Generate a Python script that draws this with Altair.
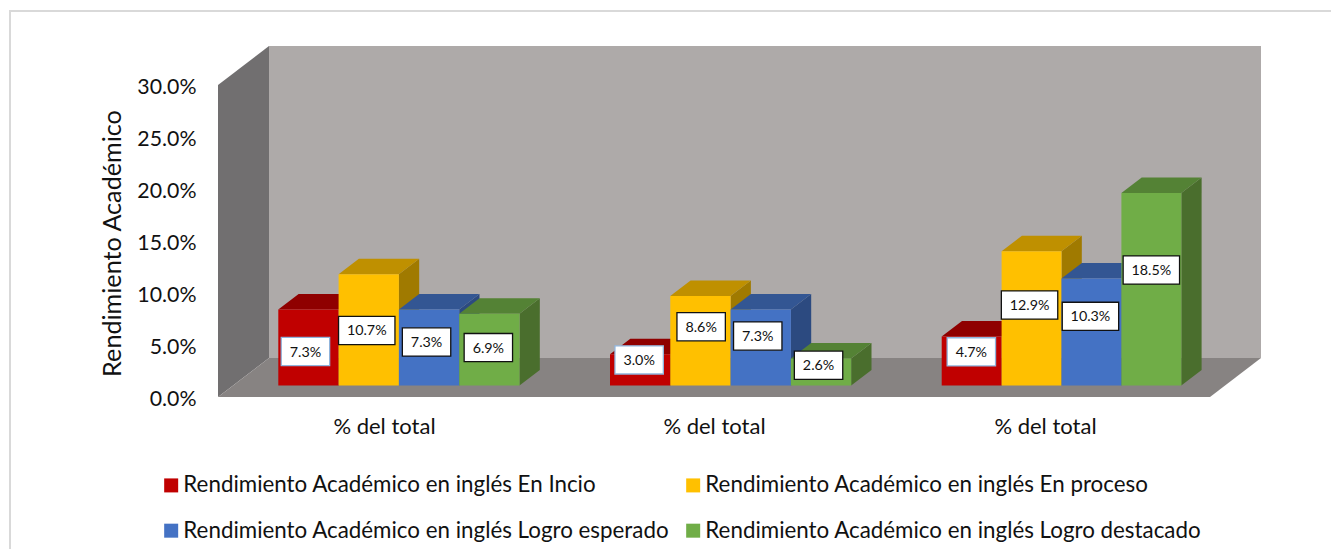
import altair as alt
import pandas as pd

# ---- chart values ----
series = [
    "Rendimiento Académico en inglés En Incio",
    "Rendimiento Académico en inglés En proceso",
    "Rendimiento Académico en inglés Logro esperado",
    "Rendimiento Académico en inglés Logro destacado",
]
inicio = [7.3, 3.0, 4.7]
proceso = [10.7, 8.6, 12.9]
esperado = [7.3, 7.3, 10.3]
destacado = [6.9, 2.6, 18.5]
group_label = "% del total"
y_ticks = [0, 5, 10, 15, 20, 25, 30]

# ---- styling / layout ----
front = ["#C00000", "#FFC000", "#4472C4", "#70AD47"]
top_c = ["#8F0000", "#BF9000", "#335693", "#548235"]
side_c = ["#7A0000", "#A07A00", "#2C4A80", "#4A6E2D"]
label_border = ["#8FB4DC", "#111111", "#111111", "#111111"]
FONT = "Lato"
W, H = 1043, 351
PX_PER_PCT = 10.4
YMAX = H / PX_PER_PCT
WALL_DX, WALL_DY = 51, 39 / PX_PER_PCT
BAR_DX, BAR_DY = 20.3, 15.5 / PX_PER_PCT
BASE = 11.5 / PX_PER_PCT
GROUP_X = [60.3, 392.0, 723.7]
BAR_W = 60.3
GROUP_BAR_W = [60.3, 60.3, 59.9]
GROUP_CENTERS = [166, 496, 827]
# hand-placed label nudges (px) relative to bar centre
nudge_x = [[-3, -1, -0.5], [-2, 0.7, -2.6], [-2.5, -3, -2], [-1, -2.5, -1.4]]
nudge_y = [[4, -10, -9.2], [0.6, -14, -13.4], [-5.6, -11.5, -15.6], [-2, -6.8, -19.3]]

all_values = [inicio, proceso, esperado, destacado]
xs = alt.Scale(domain=[0, W], range=[0, W], nice=False, zero=False)
ys = alt.Scale(domain=[0, YMAX], range=[H, 0], nice=False, zero=False)
cs = alt.Scale(domain=series, range=front)

x_axis = alt.Axis(
    title=None, values=GROUP_CENTERS, labelExpr=f"'{group_label}'", ticks=False, domain=False,
    grid=False, labelFont=FONT, labelFontSize=22, labelColor="#111111", labelPadding=19,
    labelOverlap=False, labelFlush=False)
y_axis = alt.Axis(
    title="Rendimiento Académico", values=y_ticks,
    labelExpr="format(datum.value,'.1f')+'%'", ticks=False, domain=False, grid=False,
    labelFont=FONT, labelFontSize=21.3, labelColor="#111111", labelPadding=22, labelOffset=2.5,
    titleFont=FONT, titleFontSize=25.2, titleFontWeight="normal", titleColor="#111111",
    titleX=-93, titleY=197, labelOverlap=False)


def X(f="x", **k):
    return alt.X(f"{f}:Q", scale=xs, axis=x_axis, **k)


def Y(f="y", **k):
    return alt.Y(f"{f}:Q", scale=ys, axis=y_axis, **k)


layers = []

# frame: only its top and left edges fall inside the picture
frame = alt.Chart(pd.DataFrame({"a": [0]})).mark_rect(
    fill="white", fillOpacity=0, stroke="#D9D9D9", strokeWidth=2
).encode(
    x=alt.value(-208), x2=alt.value(1400), y=alt.value(-35), y2=alt.value(800)
)
layers.append(frame)

# back wall
wall = alt.Chart(pd.DataFrame({"x": [WALL_DX], "x2": [W], "y": [WALL_DY], "y2": [YMAX]})).mark_rect(
    fill="#AEAAA9"
).encode(x=X(), x2="x2:Q", y=Y(), y2="y2:Q")
layers.append(wall)

# left wall
lw = pd.DataFrame({"x": [0, WALL_DX], "y": [0, WALL_DY], "y2": [YMAX - WALL_DY, YMAX]})
layers.append(alt.Chart(lw).mark_area(fill="#716F70", orient="vertical").encode(x=X(), y=Y(), y2="y2:Q"))

# floor
fl = pd.DataFrame({"y": [0, WALL_DY], "x": [0, WALL_DX], "x2": [W - WALL_DX, W]})
layers.append(alt.Chart(fl).mark_area(fill="#878382", orient="horizontal").encode(y=Y(), x=X(), x2="x2:Q"))

# bars, drawn series by series so later bars cover earlier side faces
for s, vals in enumerate(all_values):
    fr, tp, sd = [], [], []
    for g, v in enumerate(vals):
        bw = GROUP_BAR_W[g]
        x0 = GROUP_X[g] + s * bw
        x1 = x0 + bw
        fr.append({"x": x0, "x2": x1, "y": BASE, "y2": BASE + v, "serie": series[s]})
        tp.append({"g": g, "y": BASE + v, "x": x0, "x2": x1})
        tp.append({"g": g, "y": BASE + v + BAR_DY, "x": x0 + BAR_DX, "x2": x1 + BAR_DX})
        sd.append({"g": g, "x": x1, "y": BASE, "y2": BASE + v})
        sd.append({"g": g, "x": x1 + BAR_DX, "y": BASE + BAR_DY, "y2": BASE + v + BAR_DY})
    layers.append(alt.Chart(pd.DataFrame(sd)).mark_area(fill=side_c[s], orient="vertical").encode(
        x=X(), y=Y(), y2="y2:Q", detail="g:N"))
    layers.append(alt.Chart(pd.DataFrame(tp)).mark_area(fill=top_c[s], orient="horizontal").encode(
        y=Y(), x=X(), x2="x2:Q", detail="g:N"))
    layers.append(alt.Chart(pd.DataFrame(fr)).mark_rect().encode(
        x=X(), x2="x2:Q", y=Y(), y2="y2:Q",
        color=alt.Color("serie:N", scale=cs, sort=series, legend=alt.Legend(
            title=None, orient="none", legendX=-58, legendY=428, columns=2, direction="horizontal",
            symbolType="square", symbolSize=196, symbolStrokeWidth=0,
            labelFont=FONT, labelFontSize=22.35, labelColor="#111111", labelLimit=700,
            labelOffset=1, rowPadding=22.5, columnPadding=12)),
    ))

# data labels
for s, vals in enumerate(all_values):
    rows = []
    for g, v in enumerate(vals):
        cx = GROUP_X[g] + s * BAR_W + BAR_W / 2 + nudge_x[s][g]
        cy = BASE + v / 2 - nudge_y[s][g] / PX_PER_PCT
        txt = f"{v:.1f}%"
        hw = 28.2 if len(txt) == 5 else 24.2
        hh = 14.1 / PX_PER_PCT
        rows.append({"x": cx - hw, "x2": cx + hw, "y": cy - hh, "y2": cy + hh, "cx": cx, "cy": cy, "t": txt})
    d = pd.DataFrame(rows)
    layers.append(alt.Chart(d).mark_rect(fill="white", stroke=label_border[s], strokeWidth=1.3).encode(
        x=X(), x2="x2:Q", y=Y(), y2="y2:Q"))
    layers.append(alt.Chart(d).mark_text(font=FONT, fontSize=14.3, color="#111111", baseline="middle", dy=1).encode(
        x=X("cx"), y=Y("cy"), text="t:N"))

chart = alt.layer(*layers).properties(
    width=W, height=H,
    padding={"left": 210, "top": 38, "right": 70, "bottom": 152},
    autosize=alt.AutoSizeParams(type="none"),
    background="white",
).configure_view(stroke=None)

chart.save("out.html", embed_options={"renderer": "svg", "actions": False})
